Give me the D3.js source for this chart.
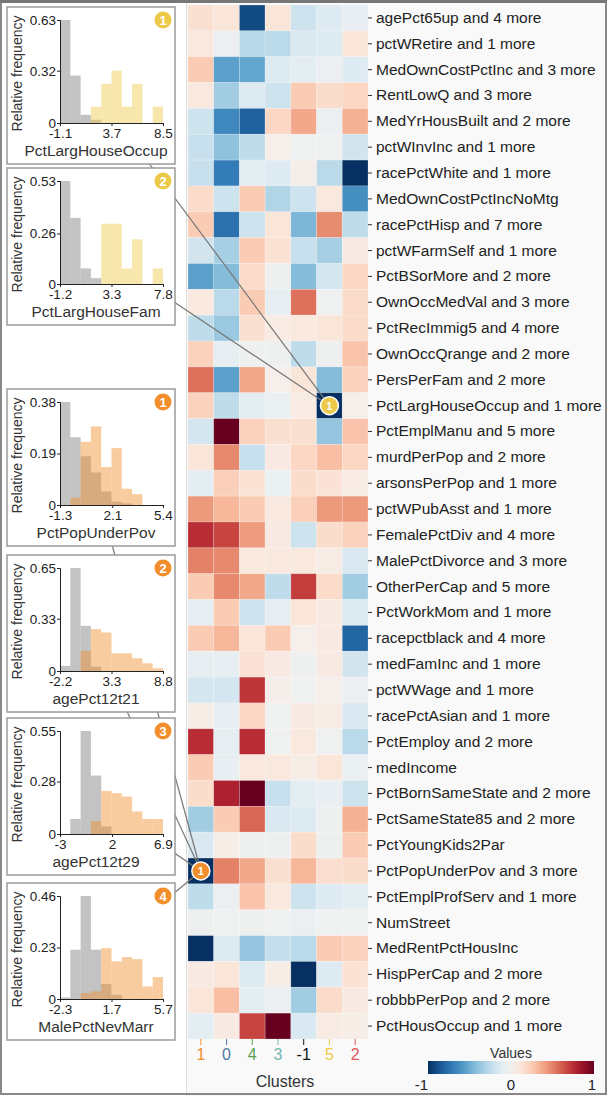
<!DOCTYPE html>
<html>
<head>
<meta charset="utf-8">
<script src="https://cdn.jsdelivr.net/npm/d3@7"></script>
<style>
body { margin: 0; background: #fff; }
svg { display: block; font-family: "Liberation Sans", Arial, Helvetica, sans-serif; }
</style>
</head>
<body>
<svg id="chart" width="607" height="1096"></svg>
<script>
// cluster columns, left to right
const clusters = ["1", "0", "4", "3", "-1", "5", "2"];

const rowLabels = [
  "agePct65up and 4 more", "pctWRetire and 1 more", "MedOwnCostPctInc and 3 more",
  "RentLowQ and 3 more", "MedYrHousBuilt and 2 more", "pctWInvInc and 1 more",
  "racePctWhite and 1 more", "MedOwnCostPctIncNoMtg", "racePctHisp and 7 more",
  "pctWFarmSelf and 1 more", "PctBSorMore and 2 more", "OwnOccMedVal and 3 more",
  "PctRecImmig5 and 4 more", "OwnOccQrange and 2 more", "PersPerFam and 2 more",
  "PctLargHouseOccup and 1 more", "PctEmplManu and 5 more", "murdPerPop and 2 more",
  "arsonsPerPop and 1 more", "pctWPubAsst and 1 more", "FemalePctDiv and 4 more",
  "MalePctDivorce and 3 more", "OtherPerCap and 5 more", "PctWorkMom and 1 more",
  "racepctblack and 4 more", "medFamInc and 1 more", "pctWWage and 1 more",
  "racePctAsian and 1 more", "PctEmploy and 2 more", "medIncome",
  "PctBornSameState and 2 more", "PctSameState85 and 2 more", "PctYoungKids2Par",
  "PctPopUnderPov and 3 more", "PctEmplProfServ and 1 more", "NumStreet",
  "MedRentPctHousInc", "HispPerCap and 2 more", "robbbPerPop and 2 more",
  "PctHousOccup and 1 more"
];

// one row per label, one value per cluster column
const values = [
  [0.15, 0.12, -0.9, 0.12, -0.2, -0.12, -0.07],
  [0.1, -0.05, -0.28, -0.27, -0.14, -0.13, 0.12],
  [0.25, -0.55, -0.52, -0.13, -0.1, -0.05, -0.12],
  [0.1, -0.35, -0.13, -0.2, 0.25, 0.17, 0.2],
  [-0.2, -0.65, -0.82, 0.2, 0.38, -0.05, 0.35],
  [-0.22, -0.4, -0.25, 0.03, -0.02, -0.02, -0.18],
  [-0.22, -0.7, -0.1, -0.12, 0.04, -0.27, -1.0],
  [0.18, -0.2, 0.25, -0.3, -0.2, 0.1, -0.62],
  [0.25, -0.75, -0.2, 0.12, -0.45, 0.47, -0.25],
  [-0.18, -0.33, 0.25, 0.14, -0.22, -0.33, 0.08],
  [-0.55, -0.43, 0.18, -0.03, -0.43, -0.17, 0.2],
  [0.09, -0.27, 0.25, -0.08, 0.55, -0.02, 0.18],
  [-0.25, -0.37, 0.15, 0.07, 0.1, 0.12, 0.18],
  [0.22, -0.08, -0.03, -0.03, -0.25, -0.03, 0.28],
  [0.55, -0.55, 0.38, 0.03, 0.12, -0.43, 0.22],
  [0.22, -0.25, -0.1, -0.06, 0.07, -1.0, 0.03],
  [-0.17, 1.0, 0.22, 0.15, 0.15, -0.38, 0.28],
  [0.12, 0.48, -0.22, 0.08, 0.2, 0.3, 0.2],
  [-0.1, 0.23, 0.14, -0.06, 0.17, 0.13, 0.07],
  [0.43, 0.33, 0.25, 0.09, 0.23, 0.43, 0.43],
  [0.75, 0.68, 0.42, 0.08, -0.2, 0.17, 0.22],
  [0.5, 0.48, 0.1, 0.1, 0.1, 0.06, -0.15],
  [0.25, 0.48, 0.38, -0.25, 0.7, 0.18, -0.35],
  [-0.08, 0.25, -0.2, -0.08, 0.12, 0.08, -0.13],
  [0.25, 0.33, 0.12, 0.25, 0.03, 0.08, -0.8],
  [-0.08, -0.08, 0.13, 0.08, -0.03, 0.08, -0.18],
  [-0.17, -0.17, 0.72, 0.04, -0.02, 0.03, -0.05],
  [0.05, -0.07, 0.2, -0.02, 0.08, 0.06, -0.15],
  [0.75, -0.08, 0.75, -0.02, 0.1, -0.02, -0.27],
  [0.25, -0.07, 0.1, 0.1, 0.05, 0.12, -0.06],
  [0.17, 0.8, 1.0, -0.22, -0.1, -0.07, -0.2],
  [-0.35, 0.25, 0.58, -0.15, -0.13, -0.03, 0.35],
  [-0.15, 0.05, -0.03, -0.03, 0.17, -0.03, 0.25],
  [-1.0, 0.5, 0.38, 0.15, 0.33, 0.16, 0.17],
  [-0.25, -0.05, 0.28, 0.1, -0.2, -0.12, -0.1],
  [-0.03, -0.02, -0.03, -0.02, -0.05, -0.02, -0.02],
  [-1.0, -0.13, -0.38, -0.23, -0.27, 0.25, 0.22],
  [0.08, 0.12, -0.13, 0.05, -1.0, -0.12, 0.14],
  [0.12, 0.3, -0.1, -0.05, -0.35, 0.18, 0.08],
  [-0.1, 0.08, 0.68, 1.0, -0.15, 0.07, 0.05]
];

// histogram panels on the left
const panelFeatures = ["PctLargHouseOccup", "PctLargHouseFam", "PctPopUnderPov",
                       "agePct12t21", "agePct12t29", "MalePctNevMarr"];
const panelCluster = ["5", "5", "1", "1", "1", "1"];
const panelBadge = ["1", "2", "1", "2", "3", "4"];
const panelRow = ["PctLargHouseOccup and 1 more", "PctLargHouseOccup and 1 more",
                  "PctPopUnderPov and 3 more", "PctPopUnderPov and 3 more",
                  "PctPopUnderPov and 3 more", "PctPopUnderPov and 3 more"];
const panelXTicks = [[-1.1, 3.7, 8.5], [-1.2, 3.3, 7.8], [-1.3, 2.1, 5.4],
                     [-2.2, 3.3, 8.8], [-3, 2, 6.9], [-2.3, 1.7, 5.7]];
const panelYTicks = [[0, 0.32, 0.63], [0, 0.26, 0.53], [0, 0.19, 0.38],
                     [0, 0.33, 0.65], [0, 0.28, 0.55], [0, 0.23, 0.46]];
// relative frequency per bin (10 bins), all points vs. the cluster
const allFreq = [
  [0.63, 0.29, 0.05, 0.02, 0, 0, 0, 0, 0, 0],
  [0.53, 0.34, 0.08, 0.03, 0, 0, 0, 0, 0, 0],
  [0.38, 0.25, 0.18, 0.12, 0.05, 0.012, 0.006, 0, 0, 0],
  [0.032, 0.65, 0.285, 0.027, 0, 0, 0, 0, 0, 0],
  [0, 0.08, 0.55, 0.312, 0.04, 0, 0, 0, 0, 0],
  [0.007, 0.22, 0.46, 0.22, 0.067, 0.019, 0, 0, 0, 0]
];
const clusterFreq = [
  [0, 0, 0, 0.10, 0.24, 0.32, 0.10, 0.24, 0, 0.10],
  [0, 0, 0, 0, 0.31, 0.31, 0.08, 0.23, 0, 0.08],
  [0, 0.027, 0.233, 0.29, 0.14, 0.21, 0.06, 0.04, 0, 0],
  [0, 0, 0.127, 0.264, 0.243, 0.112, 0.112, 0.08, 0.049, 0.017],
  [0, 0, 0, 0.07, 0.23, 0.218, 0.2, 0.12, 0.08, 0.08],
  [0, 0, 0.027, 0.034, 0.227, 0.168, 0.187, 0.178, 0.056, 0.098]
];
const panelTops = [7, 168, 389, 555, 718, 883];

const legendTicks = [-1, 0, 1];

let width = 607,
    height = 1096,
    heat = {left: 188, right: 368, top: 5, bottom: 1039},
    panel = {left: 7, w: 168, h: 157, plotL: 53, plotR: 156, plotT: 13, plotB: 116};

let svg = d3.select("#chart");

function clusterColor(c) {
  return c == "-1" ? "#111" : d3.schemeTableau10[+c];
}
let color = v => d3.interpolateRdBu((1 - v) / 2);

let x = d3.scaleBand().domain(clusters).range([heat.left, heat.right]);
let y = d3.scaleBand().domain(rowLabels).range([heat.top, heat.bottom]);

// right-hand background
svg.append("rect")
  .attr("x", 186).attr("y", 0).attr("width", 420).attr("height", height)
  .attr("fill", "#f9f9f9");
svg.append("line")
  .attr("x1", 186.5).attr("x2", 186.5).attr("y1", 0).attr("y2", height)
  .attr("stroke", "#ddd");

// heatmap cells
let cells = [];
values.forEach((row, i) => row.forEach((v, j) => cells.push({row: rowLabels[i], c: clusters[j], v: v})));

svg.append("g")
  .selectAll("rect")
  .data(cells).enter()
  .append("rect")
  .attr("x", d => x(d.c))
  .attr("y", d => y(d.row))
  .attr("width", x.bandwidth())
  .attr("height", y.bandwidth())
  .attr("fill", d => color(d.v))
  .attr("stroke", "#fff")
  .attr("stroke-opacity", 0.25)
  .attr("stroke-width", 0.8);

// row labels on the right
let yAxis = svg.append("g")
  .attr("transform", `translate(${heat.right},0)`)
  .call(d3.axisRight(y).tickSize(4).tickPadding(4));
yAxis.select(".domain").remove();
yAxis.selectAll("text").attr("font-size", 15.5).attr("fill", "#222").attr("font-family", null);
yAxis.selectAll("line").attr("stroke", "#333");

// cluster axis
let xAxis = svg.append("g")
  .attr("transform", `translate(0,${heat.bottom})`)
  .call(d3.axisBottom(x).tickSize(6).tickPadding(4));
xAxis.select(".domain").remove();
xAxis.selectAll("line").attr("stroke", d => clusterColor(d));
xAxis.selectAll("text").attr("font-size", 16).attr("font-family", null)
  .attr("fill", d => clusterColor(d));

svg.append("text")
  .attr("x", (heat.left + heat.right) / 2 + 7).attr("y", 1087)
  .attr("text-anchor", "middle").attr("font-size", 16).attr("fill", "#333")
  .text("Clusters");

// connector lines, from panel centre to marked cell
panelTops.forEach((top, i) => {
  svg.append("line")
    .attr("x1", panel.left + panel.w / 2)
    .attr("y1", top + panel.h / 2)
    .attr("x2", x(panelCluster[i]) + x.bandwidth() / 2)
    .attr("y2", y(panelRow[i]) + y.bandwidth() / 2)
    .attr("stroke", "#777")
    .attr("stroke-width", 1.2);
});

// histogram panels
panelTops.forEach((top, i) => {
  let g = svg.append("g").attr("transform", `translate(${panel.left},${top})`);
  g.append("rect")
    .attr("width", panel.w).attr("height", panel.h)
    .attr("fill", "#fff").attr("stroke", "#9a9a9a").attr("stroke-width", 1.5);

  let xt = panelXTicks[i], yt = panelYTicks[i];
  let hx = d3.scaleLinear().domain([xt[0], xt[2]]).range([panel.plotL, panel.plotR]);
  let hy = d3.scaleLinear().domain([0, yt[2]]).range([panel.plotB, panel.plotT]);
  let step = (xt[2] - xt[0]) / allFreq[i].length;

  let bars = (freq, fill, op) => g.append("g")
    .selectAll("rect")
    .data(freq).enter()
    .append("rect")
    .attr("x", (d, k) => hx(xt[0] + k * step))
    .attr("width", hx(xt[0] + step) - hx(xt[0]))
    .attr("y", d => hy(d))
    .attr("height", d => hy(0) - hy(d))
    .attr("fill", fill)
    .attr("fill-opacity", op);

  bars(allFreq[i], "#888", 0.5);
  bars(clusterFreq[i], clusterColor(panelCluster[i]), 0.45);

  let ax = g.append("g")
    .attr("transform", `translate(0,${panel.plotB})`)
    .call(d3.axisBottom(hx).tickValues(xt).tickFormat(d => String(d)).tickSize(3).tickPadding(2));
  let ay = g.append("g")
    .attr("transform", `translate(${panel.plotL},0)`)
    .call(d3.axisLeft(hy).tickValues(yt).tickFormat(d => String(d)).tickSize(3).tickPadding(1));
  [ax, ay].forEach(a => {
    a.selectAll("text").attr("font-size", 13.5).attr("font-family", null).attr("fill", "#222");
    a.selectAll("line, path").attr("stroke", "#222");
  });

  g.append("text")
    .attr("transform", `translate(15,66.5) rotate(-90)`)
    .attr("text-anchor", "middle").attr("font-size", 14).attr("fill", "#333")
    .text("Relative frequency");
  g.append("text")
    .attr("x", 89).attr("y", 149)
    .attr("text-anchor", "middle").attr("font-size", 15.5).attr("fill", "#333")
    .text(panelFeatures[i]);

  g.append("circle")
    .attr("cx", 156).attr("cy", 13).attr("r", 8.5)
    .attr("fill", clusterColor(panelCluster[i]));
  g.append("text")
    .attr("x", 156).attr("y", 17.5)
    .attr("text-anchor", "middle").attr("font-size", 13).attr("font-weight", "bold")
    .attr("fill", "#fff")
    .text(panelBadge[i]);
});

// markers on the heatmap (first badge of each group on top)
let markers = [];
panelTops.forEach((_, i) => {
  if (!markers.some(m => m.row == panelRow[i])) markers.push({row: panelRow[i], c: panelCluster[i], n: panelBadge[i]});
});
markers.forEach(m => {
  let cx = x(m.c) + x.bandwidth() / 2, cy = y(m.row) + y.bandwidth() / 2;
  svg.append("circle")
    .attr("cx", cx).attr("cy", cy).attr("r", 9)
    .attr("fill", clusterColor(m.c)).attr("stroke", "#fff").attr("stroke-width", 1.5);
  svg.append("text")
    .attr("x", cx).attr("y", cy + 4)
    .attr("text-anchor", "middle").attr("font-size", 11).attr("font-weight", "bold")
    .attr("fill", "#fff")
    .text(m.n);
});

// colour legend
let lx = d3.scaleLinear().domain([-1, 1]).range([428, 594]);
let grad = svg.append("defs").append("linearGradient").attr("id", "rdbu");
d3.range(0, 1.0001, 0.05).forEach(t => {
  grad.append("stop").attr("offset", t).attr("stop-color", color(-1 + 2 * t));
});
svg.append("rect")
  .attr("x", lx(-1)).attr("y", 1061)
  .attr("width", lx(1) - lx(-1)).attr("height", 13)
  .attr("fill", "url(#rdbu)");
svg.append("text")
  .attr("x", lx(0)).attr("y", 1058)
  .attr("text-anchor", "middle").attr("font-size", 14).attr("fill", "#333")
  .text("Values");
svg.append("g")
  .selectAll("text")
  .data(legendTicks).enter()
  .append("text")
  .attr("x", d => lx(d))
  .attr("y", 1090)
  .attr("text-anchor", d => d == 0 ? "middle" : "end")
  .attr("dx", d => d == 1 ? 2 : 0)
  .attr("font-size", 15).attr("fill", "#222")
  .text(d => String(d));

// outer frame
svg.append("rect")
  .attr("x", 1).attr("y", 1).attr("width", width - 2).attr("height", height - 3)
  .attr("fill", "none").attr("stroke", "#888").attr("stroke-width", 2);
svg.append("line")
  .attr("x1", 0).attr("x2", width).attr("y1", 1.5).attr("y2", 1.5)
  .attr("stroke", "#777").attr("stroke-width", 3);
</script>
</body>
</html>
